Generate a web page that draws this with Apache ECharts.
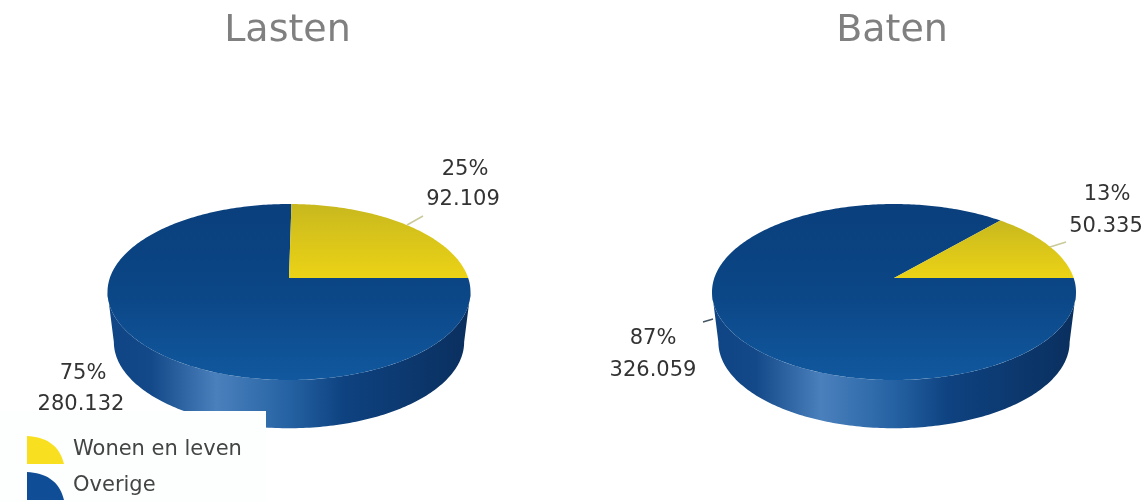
<!DOCTYPE html>
<html><head><meta charset="utf-8">
<style>html,body{margin:0;padding:0;background:#fff}#c{width:1148px;height:502px}</style>
<script src="https://cdn.jsdelivr.net/npm/echarts@6/dist/echarts.min.js"></script>
</head><body><div id="c"></div>
<script>
const categories = ['Wonen en leven', 'Overige'];
const pieTitles = ['Lasten', 'Baten'];
const wonenValues = [92109, 50335];
const overigeValues = [280132, 326059];

const FONT = '"DejaVu Sans", sans-serif';
const pies = [
  { cx: 289, cy: 292, ay: 278, rx: 181.5, ry: 88 },
  { cx: 894, cy: 292, ay: 278, rx: 182, ry: 88 }
];
const titleCenters = [288.5, 893];
const wall = { drop: 50, rxScale: 0.965, ryScale: 0.98 };
const labelLayout = {
  wonen: [
    { pct: [465, 170], val: [463, 200], line: [[407, 225], [423, 216]], lineColor: '#c9c99a' },
    { pct: [1107, 195], val: [1106, 227], line: [[1050, 247], [1066, 242]], lineColor: '#c9c99a' }
  ],
  overige: [
    { pct: [83, 374], val: [81, 405] },
    { pct: [653, 339], val: [653, 371], line: [[703, 322], [713, 319]], lineColor: '#445566' }
  ]
};

const G = echarts.graphic.LinearGradient;
const fmt = v => String(v).replace(/\B(?=(\d{3})+$)/g, '.');

// A ray from the perspective apex, at angle phi in circle space, meeting the rim.
function rim(p, phi) {
  const k = p.ry / p.rx, off = (p.cy - p.ay) / k;
  const dx = Math.cos(phi), dy = Math.sin(phi);
  const b = off * dy, t = -b + Math.sqrt(b * b - off * off + p.rx * p.rx);
  const X = t * dx, Y = off + t * dy;
  return [p.cx + X, p.cy - Y * k];
}
function wedge(p, a0, a1) {
  const pts = [[p.cx, p.ay]], n = Math.max(8, Math.ceil((a1 - a0) * 60));
  for (let i = 0; i <= n; i++) pts.push(rim(p, a0 + (a1 - a0) * i / n));
  return pts;
}
function sideWall(p) {
  const pts = [], n = 160;
  for (let i = 0; i <= n; i++) {
    const a = Math.PI + Math.PI * i / n;
    pts.push([p.cx + p.rx * Math.cos(a), p.cy - p.ry * Math.sin(a)]);
  }
  for (let i = n; i >= 0; i--) {
    const a = Math.PI + Math.PI * i / n;
    pts.push([p.cx + p.rx * wall.rxScale * Math.cos(a),
              p.cy + wall.drop - p.ry * wall.ryScale * Math.sin(a)]);
  }
  return pts;
}
function labelEls(l, a, b) {
  const pct = Math.round(a / (a + b) * 100) + '%';
  const els = [];
  [[pct, l.pct], [fmt(a), l.val]].forEach(([t, pos]) => els.push({
    type: 'text',
    style: { text: t, x: pos[0], y: pos[1], fill: '#333', font: '21px ' + FONT,
             textAlign: 'center', textVerticalAlign: 'middle' }
  }));
  if (l.line) els.push({
    type: 'line',
    shape: { x1: l.line[0][0], y1: l.line[0][1], x2: l.line[1][0], y2: l.line[1][1] },
    style: { stroke: l.lineColor, lineWidth: 1.5 }
  });
  return els;
}
const yellowFill = new G(0, 0, 0, 1, [
  { offset: 0, color: '#c8b81e' }, { offset: 1, color: '#ecd316' }]);
const blueFill = new G(0, 0, 0, 1, [
  { offset: 0, color: '#0a3f7c' }, { offset: 0.5, color: '#0b4686' }, { offset: 1, color: '#11589e' }]);
const wallFill = new G(0, 0, 1, 0, [
  { offset: 0, color: '#0f4485' }, { offset: 0.12, color: '#134988' },
  { offset: 0.3, color: '#4a80bc' }, { offset: 0.5, color: '#2562a3' },
  { offset: 0.65, color: '#0e4280' }, { offset: 1, color: '#0a2f5e' }]);

function renderWonen(params, api) {
  const i = api.value(0), a = api.value(1), b = api.value(2), p = pies[i];
  const end = a / (a + b) * 2 * Math.PI;
  return { type: 'group', children: [
    { type: 'polygon', shape: { points: wedge(p, 0, end) }, style: { fill: yellowFill } },
    ...labelEls(labelLayout.wonen[i], a, b)
  ]};
}
function renderOverige(params, api) {
  const i = api.value(0), a = api.value(1), b = api.value(2), p = pies[i];
  const start = b / (a + b) * 2 * Math.PI;
  return { type: 'group', children: [
    { type: 'polygon', shape: { points: sideWall(p) }, style: { fill: wallFill } },
    { type: 'polygon', shape: { points: wedge(p, start, 2 * Math.PI) }, style: { fill: blueFill } },
    ...labelEls(labelLayout.overige[i], a, b)
  ]};
}

const chart = echarts.init(document.getElementById('c'), null, { renderer: 'canvas' });
chart.setOption({
  animation: false,
  backgroundColor: '#ffffff',
  title: pieTitles.map((t, i) => ({
    text: t, left: titleCenters[i] - 6, top: 7, textAlign: 'center',
    textStyle: { color: '#808080', fontFamily: FONT, fontWeight: 'normal', fontSize: 38 }
  })),
  legend: {
    left: 27, top: 436, padding: 0, orient: 'vertical',
    itemWidth: 37, itemHeight: 28, itemGap: 8,
    selectedMode: false,
    textStyle: { color: '#444', fontFamily: FONT, fontSize: 21, padding: [0, 0, 5, 4] },
    data: categories.map(name => ({ name, icon: 'path://M0 0C18 1 32 8 37 28L0 28Z' }))
  },
  graphic: [{ type: 'rect', z: 3, silent: true,
    shape: { x: 0, y: 411, width: 266, height: 91 }, style: { fill: '#fdfefe' } }],
  series: [
    { type: 'custom', name: categories[1], coordinateSystem: 'none', z: 2, clip: false, silent: true,
      itemStyle: { color: '#0f4d96' }, renderItem: renderOverige,
      data: overigeValues.map((v, i) => [i, v, wonenValues[i]]) },
    { type: 'custom', name: categories[0], coordinateSystem: 'none', z: 2, clip: false, silent: true,
      itemStyle: { color: '#f8e020' }, renderItem: renderWonen,
      data: wonenValues.map((v, i) => [i, v, overigeValues[i]]) }
  ]
});
</script></body></html>
